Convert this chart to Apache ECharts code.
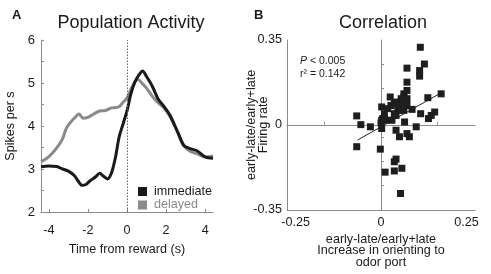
<!DOCTYPE html>
<html>
<head>
<meta charset="utf-8">
<script src="https://cdn.jsdelivr.net/npm/echarts@6/dist/echarts.min.js"></script>
<style>
html,body{margin:0;padding:0;background:#fff;}
#main{width:491px;height:274px;}
</style>
</head>
<body>
<div id="main"></div>
<script>
var chartDom = document.getElementById('main');
var myChart = echarts.init(chartDom);

// panel A: population activity
var timeImmediate = [-4.4,-4.0,-3.6,-3.3,-3.0,-2.7,-2.5,-2.3,-2.1,-1.9,-1.6,-1.4,-1.2,-1.0,-0.8,-0.6,-0.4,-0.2,0.0,0.2,0.4,0.6,0.8,1.0,1.3,1.6,1.9,2.2,2.6,2.9,3.2,3.6,4.0,4.4];
var rateImmediate = [3.05,3.07,3.06,3.0,2.95,2.85,2.72,2.62,2.64,2.72,2.82,2.9,2.83,2.77,2.9,3.25,3.75,4.05,4.35,4.75,5.02,5.18,5.28,5.15,4.92,4.62,4.45,4.25,3.85,3.55,3.48,3.42,3.28,3.25];
var timeDelayed = [-4.4,-4.1,-3.8,-3.5,-3.3,-3.1,-2.9,-2.7,-2.45,-2.25,-2.0,-1.7,-1.4,-1.1,-0.8,-0.6,-0.4,-0.2,0.0,0.2,0.4,0.55,0.8,1.0,1.2,1.5,1.9,2.2,2.6,2.9,3.2,3.6,4.0,4.4];
var rateDelayed = [3.17,3.25,3.38,3.55,3.7,3.95,4.08,4.18,4.28,4.18,4.2,4.28,4.35,4.36,4.42,4.43,4.45,4.55,4.65,4.85,5.02,5.08,4.98,4.88,4.75,4.58,4.42,4.22,3.85,3.55,3.42,3.35,3.28,3.3];
var rateTicks = [2,3,4,5,6];
var timeTicks = [-4,-2,0,2,4];

// panel B: correlation
var orientX = [0.115,0.127,0.076,0.113,0.113,0.076,0.076,0.067,0.067,0.027,0.059,0.076,0.039,0.059,0.061,0.076,0.137,0.029,0.020,0.054,0.067,0.091,0.002,0.010,0.039,-0.071,0.116,0.147,0.139,0.157,0.176,0.002,0.015,0.032,0.069,-0.059,-0.031,0.000,0.103,0.002,0.044,0.054,0.076,0.083,-0.071,-0.002,0.044,0.039,0.012,0.039,0.061,0.057,0.041,0.049,0.044,0.064,0.005];
var firingY = [0.320,0.251,0.234,0.224,0.201,0.176,0.142,0.128,0.115,0.115,0.108,0.108,0.091,0.094,0.080,0.080,0.112,0.080,0.067,0.060,0.060,0.064,0.074,0.046,0.046,0.037,0.046,0.039,0.026,0.053,0.128,0.019,0.019,0.019,0.012,0.001,-0.008,0.008,-0.008,-0.015,-0.022,-0.049,-0.036,-0.049,-0.090,-0.100,-0.141,-0.152,-0.195,-0.190,-0.179,-0.283,0.094,0.067,0.039,0.094,0.026];
var fitX = [-0.069, 0.167];
var fitY = [-0.063, 0.125];
var orientTicks = [-0.25, 0, 0.25];
var firingTicks = [-0.35, 0, 0.35];
var zeroTicksX = [-0.165, 0.165];
var zeroTicksY = [-0.25, -0.15, -0.05, 0.05, 0.15, 0.25];

function pairs(xs, ys) {
    return xs.map(function (x, i) { return [x, ys[i]]; });
}

var FONT = 'Liberation Sans, Arial, sans-serif';
var AXIS_GRAY = '#8c8c8c';
var TEXT = '#1a1a1a';

var option = {
    animation: false,
    textStyle: { fontFamily: FONT },
    title: [
        { text: 'Population Activity', left: 126, top: 9, textAlign: 'center',
          textStyle: { fontSize: 18, fontWeight: 'normal', color: TEXT, fontFamily: FONT } },
        { text: 'Correlation', left: 378, top: 9, textAlign: 'center',
          textStyle: { fontSize: 18, fontWeight: 'normal', color: TEXT, fontFamily: FONT } },
        { text: 'A', left: 7, top: 4,
          textStyle: { fontSize: 13, fontWeight: 'bold', color: TEXT, fontFamily: FONT } },
        { text: 'B', left: 249, top: 4,
          textStyle: { fontSize: 13, fontWeight: 'bold', color: TEXT, fontFamily: FONT } }
    ],
    legend: {
        left: 133,
        top: 180,
        orient: 'vertical',
        icon: 'rect',
        itemWidth: 9,
        itemHeight: 9,
        itemGap: 0.5,
        textStyle: { fontSize: 12.6, fontFamily: FONT, lineHeight: 10, padding: [0, 0, 0, 2] },
        data: [
            { name: 'immediate', textStyle: { color: TEXT } },
            { name: 'delayed', textStyle: { color: '#8a8a8a' } }
        ]
    },
    grid: [
        { left: 41, right: 278, top: 40, bottom: 62 },
        { left: 287, right: 16, top: 40, bottom: 62 }
    ],
    xAxis: [
        {
            gridIndex: 0, type: 'value', min: -4.4, max: 4.4,
            name: 'Time from reward (s)', nameLocation: 'middle', nameGap: 31, nameMoveOverlap: false,
            nameTextStyle: { fontSize: 12.6, color: TEXT, fontFamily: FONT },
            axisLine: { onZero: false, lineStyle: { color: AXIS_GRAY, width: 1 } },
            axisTick: { inside: true, length: 3, customValues: timeTicks, lineStyle: { color: AXIS_GRAY } },
            axisLabel: { customValues: timeTicks, margin: 12, fontSize: 12.6, color: TEXT, fontFamily: FONT },
            splitLine: { show: false }
        },
        {
            gridIndex: 1, type: 'value', min: -0.275, max: 0.275, position: 'bottom',
            name: 'early-late/early+late\nIncrease in orienting to\nodor port',
            nameLocation: 'middle', nameGap: 24, nameMoveOverlap: false,
            nameTextStyle: { fontSize: 12.6, lineHeight: 11.5, color: TEXT, fontFamily: FONT, verticalAlign: 'top' },
            axisLine: { onZero: false, lineStyle: { color: AXIS_GRAY, width: 1 } },
            axisTick: { show: false },
            axisLabel: { customValues: orientTicks, margin: 6, fontSize: 12.6, color: TEXT, fontFamily: FONT },
            splitLine: { show: false }
        },
        {
            gridIndex: 1, type: 'value', min: -0.275, max: 0.275, position: 'bottom',
            axisLine: { onZero: true, lineStyle: { color: AXIS_GRAY, width: 1 } },
            axisTick: { inside: true, length: 3, customValues: zeroTicksX, lineStyle: { color: AXIS_GRAY } },
            axisLabel: { show: false },
            splitLine: { show: false }
        }
    ],
    yAxis: [
        {
            gridIndex: 0, type: 'value', min: 2, max: 6, interval: 0.5,
            name: 'Spikes per s', nameLocation: 'middle', nameGap: 24, nameMoveOverlap: false,
            nameTextStyle: { fontSize: 12.6, color: TEXT, fontFamily: FONT },
            axisLine: { show: true, onZero: false, lineStyle: { color: AXIS_GRAY, width: 1 } },
            axisTick: { show: true, inside: true, length: 3, lineStyle: { color: AXIS_GRAY } },
            axisLabel: {
                margin: 6, fontSize: 13, color: TEXT, fontFamily: FONT,
                formatter: function (v) { return rateTicks.indexOf(v) >= 0 ? String(v) : ''; }
            },
            splitLine: { show: false }
        },
        {
            gridIndex: 1, type: 'value', min: -0.35, max: 0.35, position: 'left',
            name: 'early-late/early+late\nFiring rate', nameLocation: 'middle', nameGap: 17, nameMoveOverlap: false,
            nameTextStyle: { fontSize: 12.6, lineHeight: 12, color: TEXT, fontFamily: FONT },
            axisLine: { show: true, onZero: false, lineStyle: { color: AXIS_GRAY, width: 1 } },
            axisTick: { show: false },
            axisLabel: {
                customValues: firingTicks, margin: 5, fontSize: 12.6, color: TEXT, fontFamily: FONT,
                formatter: function (v) { return v === 0 ? '0' : String(v); }
            },
            splitLine: { show: false }
        },
        {
            gridIndex: 1, type: 'value', min: -0.35, max: 0.35, position: 'left',
            axisLine: { show: true, onZero: true, lineStyle: { color: AXIS_GRAY, width: 1 } },
            axisTick: { show: true, inside: true, length: 3, customValues: zeroTicksY, lineStyle: { color: AXIS_GRAY } },
            axisLabel: { show: false },
            splitLine: { show: false }
        }
    ],
    graphic: [
        {
            type: 'text', left: 300, top: 56,
            style: {
                text: '{i|P} < 0.005', fontSize: 10.5, fill: TEXT, fontFamily: FONT,
                rich: { i: { fontStyle: 'italic', fontSize: 10.5, fontFamily: FONT, fill: TEXT } }
            }
        },
        {
            type: 'text', left: 300, top: 69,
            style: { text: 'r\u00b2 = 0.142', fontSize: 10.5, fill: TEXT, fontFamily: FONT }
        }
    ],
    series: [
        {
            name: 'delayed', type: 'line', xAxisIndex: 0, yAxisIndex: 0,
            data: pairs(timeDelayed, rateDelayed),
            showSymbol: false, symbol: 'none', smooth: 0.3,
            itemStyle: { color: '#8a8a8a' },
            lineStyle: { color: '#8a8a8a', width: 3 },
            markLine: {
                silent: true, symbol: 'none', label: { show: false },
                lineStyle: { color: '#666', type: [1.5, 1.5], width: 1 },
                data: [{ xAxis: 0 }]
            },
            z: 2
        },
        {
            name: 'immediate', type: 'line', xAxisIndex: 0, yAxisIndex: 0,
            data: pairs(timeImmediate, rateImmediate),
            showSymbol: false, symbol: 'none', smooth: 0.3,
            itemStyle: { color: '#1a1a1a' },
            lineStyle: { color: '#1a1a1a', width: 3 },
            z: 3
        },
        {
            name: 'fit', type: 'line', xAxisIndex: 2, yAxisIndex: 2,
            data: pairs(fitX, fitY),
            showSymbol: false, symbol: 'none',
            lineStyle: { color: '#222', width: 1 },
            z: 3
        },
        {
            name: 'cells', type: 'scatter', xAxisIndex: 2, yAxisIndex: 2,
            data: pairs(orientX, firingY),
            symbol: 'rect', symbolSize: 7,
            itemStyle: { color: '#1e1e1e', opacity: 1 },
            z: 4
        }
    ]
};

option && myChart.setOption(option);
window.addEventListener('resize', function () {
    myChart.resize();
});
</script>
</body>
</html>
